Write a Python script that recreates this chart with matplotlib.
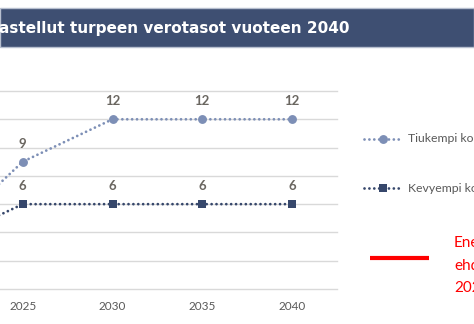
import matplotlib
matplotlib.use("Agg")
import matplotlib.pyplot as plt
from matplotlib.lines import Line2D
from matplotlib.patches import Rectangle

years = ["2020", "2025", "2030", "2035", "2040"]
tiukempi = [3, 9, 12, 12, 12]
kevyempi = [3, 6, 6, 6, 6]
series_names = ["Tiukempi ko", "Kevyempi ko"]
title = "astellut turpeen verotasot vuoteen 2040"
red_lines = ["Ene", "ehd", "202"]

C_LIGHT = "#7d8fb6"
C_DARK = "#36476b"
C_TEXT = "#595959"
C_BAR = "#3e4f72"

W, H = 474, 324
fig = plt.figure(figsize=(W / 100, H / 100), dpi=100)

def fx(px):
    return px / W

def fy(py):
    return 1 - py / H

# title bar
fig.add_artist(Rectangle((0, fy(47)), 1.0, fy(8) - fy(47), transform=fig.transFigure,
                         facecolor=C_BAR, edgecolor="#b7bfcf", lw=1.0, zorder=0))
fig.text(fx(-1), fy(29), title, color="white", fontsize=11, fontweight="bold",
         family="DejaVu Sans", ha="left", va="center")

ax = fig.add_axes([fx(-112), fy(289), fx(337) - fx(-112), fy(91) - fy(289)])
x = list(range(len(years)))
dot = (0, (0.01, 1.75))
LW = 2.0
ax.plot(x, tiukempi, color=C_LIGHT, lw=LW, linestyle=dot, dash_capstyle="round",
        marker="o", markersize=6.4, markeredgewidth=0, zorder=3)
ax.plot(x, kevyempi, color=C_DARK, lw=LW, linestyle=dot, dash_capstyle="round",
        marker="s", markersize=5.8, markeredgewidth=0, zorder=3)

# the first category lies outside the visible canvas (cropped in the reference)
visible = [i >= 1 for i in x]
for xi, v, vis in zip(x, tiukempi, visible):
    if vis:
        ax.annotate(str(v), (xi, v), xytext=(0, 13), textcoords="offset points",
                    ha="center", va="center", fontsize=9.5, fontweight="bold",
                    family="Lato", color="#6a6660")
for xi, v, vis in zip(x, kevyempi, visible):
    if vis:
        ax.annotate(str(v), (xi, v), xytext=(0, 13), textcoords="offset points",
                    ha="center", va="center", fontsize=9.5, fontweight="bold",
                    family="Lato", color="#6a6660")

ax.set_xlim(-0.5, len(years) - 0.5)
ax.set_ylim(0, 14)
ax.set_yticks(range(0, 15, 2))
ax.yaxis.grid(True, color="#d9d9d9", lw=1.0)
for gl in ax.yaxis.get_gridlines():
    gl.set_clip_on(False)
ax.set_axisbelow(True)
ax.set_xticks(x)
ax.set_xticklabels([y if vis else "" for y, vis in zip(years, visible)],
                   fontsize=8.5, family="Lato", color=C_TEXT)
ax.tick_params(axis="x", length=0, pad=9)
ax.tick_params(axis="y", length=0, labelleft=False)
for s in ax.spines.values():
    s.set_visible(False)

# legend
for (name, col, mk, ms), yy in zip([(series_names[0], C_LIGHT, "o", 6.4),
                                    (series_names[1], C_DARK, "s", 5.8)], [139, 188]):
    fig.add_artist(Line2D([fx(364), fx(402)], [fy(yy), fy(yy)], transform=fig.transFigure,
                          color=col, lw=LW, linestyle=dot, dash_capstyle="round"))
    fig.add_artist(Line2D([fx(383)], [fy(yy)], transform=fig.transFigure,
                          color=col, marker=mk, markersize=ms, markeredgewidth=0))
    fig.text(fx(408), fy(yy), name, fontsize=8.8, family="Lato", color=C_TEXT,
             ha="left", va="center")

# red marker and text
fig.add_artist(Line2D([fx(370), fx(429)], [fy(258), fy(258)], transform=fig.transFigure,
                      color="#ff0000", lw=3.0, solid_capstyle="butt"))
for t, yy in zip(red_lines, [243, 266, 288]):
    fig.text(fx(454), fy(yy), t, fontsize=11, family="Lato", color="#ff0000",
             ha="left", va="center")

fig.savefig("out.png", dpi=100)
